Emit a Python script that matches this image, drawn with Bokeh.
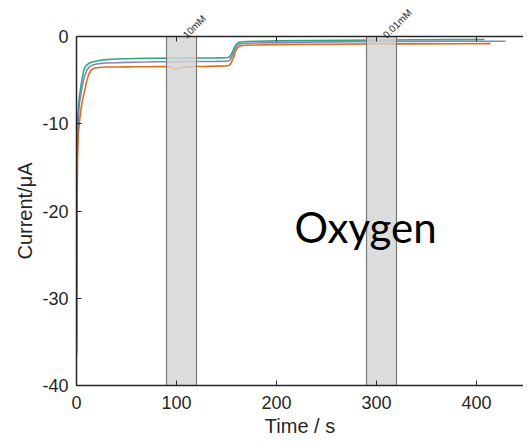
import math
from bokeh.plotting import figure
from bokeh.models import Range1d, LinearAxis, Label, FixedTicker
from bokeh.embed import file_html
from bokeh.resources import INLINE

# ---- data ----
t_green = [0, 0.3, 0.6, 1, 2, 3, 4, 5, 6, 7, 8, 10, 12, 15, 20, 25, 30, 40, 50, 60, 70, 80, 90,
           100, 110, 120, 130, 140, 150, 153, 155, 157, 159, 161, 163, 166, 170, 180, 200, 230,
           260, 300, 340, 380, 408]
i_green = [-36.0, -20.0, -13.5, -10.0, -8.0, -6.8, -6.0, -5.3, -4.6, -4.0, -3.6, -3.3, -3.1, -2.95,
           -2.8, -2.7, -2.65, -2.58, -2.55, -2.52, -2.5, -2.5, -2.48, -2.5, -2.48, -2.47, -2.46,
           -2.45, -2.43, -2.35, -2.0, -1.5, -1.0, -0.75, -0.65, -0.6, -0.58, -0.55, -0.5, -0.47,
           -0.44, -0.4, -0.38, -0.36, -0.35]

t_purple = [0, 0.3, 0.6, 1, 2, 3, 5, 7, 8, 10, 12, 14, 17, 20, 25, 30, 40, 50, 60, 70, 80, 90,
            100, 110, 120, 130, 140, 150, 153, 155, 157, 159, 161, 163, 166, 170, 180, 200, 230,
            260, 300, 340, 380, 410, 429]
i_purple = [-36.3, -22.0, -15.0, -11.0, -9.0, -7.6, -6.2, -5.0, -4.6, -3.95, -3.6, -3.4, -3.25,
            -3.15, -3.08, -3.03, -3.0, -2.97, -2.95, -2.93, -2.9, -2.9, -2.92, -2.88, -2.87, -2.86,
            -2.85, -2.83, -2.75, -2.4, -1.9, -1.3, -1.0, -0.85, -0.8, -0.77, -0.74, -0.7, -0.66,
            -0.62, -0.58, -0.56, -0.55, -0.55, -0.55]

t_orange = [0, 0.3, 0.6, 1, 2, 3, 4, 6, 8, 9, 10, 12, 14, 16, 18, 22, 25, 30, 40, 50, 60, 70, 80,
            90, 95, 98, 101, 105, 110, 120, 130, 140, 150, 153, 155, 157, 159, 161, 163, 166, 170,
            180, 200, 230, 260, 300, 340, 380, 414]
i_orange = [-36.8, -28.0, -20.0, -14.0, -11.0, -9.8, -8.7, -7.3, -6.3, -5.8, -5.2, -4.4, -3.95,
            -3.75, -3.62, -3.55, -3.52, -3.5, -3.5, -3.48, -3.47, -3.46, -3.45, -3.45, -3.5, -3.75,
            -3.7, -3.55, -3.48, -3.43, -3.42, -3.4, -3.38, -3.3, -2.95, -2.4, -1.7, -1.3, -1.1,
            -1.03, -1.0, -0.97, -0.93, -0.9, -0.88, -0.85, -0.84, -0.83, -0.82]

band_start = [90, 290]
band_end = [120, 320]
band_labels = ["10mM", "0.01mM"]

x_ticks = [0, 100, 200, 300, 400]
y_ticks = [-40, -30, -20, -10, 0]
x_min, x_max = 0, 447
y_min, y_max = -40, 0

annotation_text = "Oxygen"
annotation_pos = (218, -21.8)

# ---- figure ----
TXT = "#262626"
p = figure(width=523, height=440, x_range=Range1d(x_min, x_max), y_range=Range1d(y_min, y_max),
           output_backend="svg", toolbar_location=None,
           min_border_left=76, min_border_right=0, min_border_top=36, min_border_bottom=55)
p.outline_line_color = None
p.xgrid.visible = False
p.ygrid.visible = False
p.background_fill_color = "white"
p.border_fill_color = "white"

p.line(t_green, i_green, line_color="#1b9e77", line_width=1.6, line_alpha=0.9)
p.line(t_orange, i_orange, line_color="#d95f02", line_width=1.6, line_alpha=0.9)
p.line(t_purple, i_purple, line_color="#7570b3", line_width=1.6, line_alpha=0.85)

p.quad(left=band_start, right=band_end, top=y_max, bottom=y_min,
       fill_color="#d3d3d3", fill_alpha=0.8, line_color="#7a7a7a", line_width=1.2)

p.add_layout(Label(x=annotation_pos[0], y=annotation_pos[1], text=annotation_text,
                   text_font="Lato", text_font_size="42px", text_color="black",
                   text_baseline="alphabetic", text_align="left"))

for ax in (p.xaxis[0], p.yaxis[0]):
    ax.major_tick_in = 5
    ax.major_tick_out = 0
    ax.minor_tick_line_color = None
    ax.axis_line_color = TXT
    ax.axis_line_width = 1.5
    ax.major_tick_line_color = TXT
    ax.major_label_text_font = "Liberation Sans"
    ax.major_label_text_font_size = "18px"
    ax.major_label_text_color = TXT
    ax.axis_label_text_font = "Liberation Sans"
    ax.axis_label_text_font_size = "20px"
    ax.axis_label_text_font_style = "normal"
    ax.axis_label_text_color = TXT

p.xaxis[0].ticker = FixedTicker(ticks=x_ticks)
p.yaxis[0].ticker = FixedTicker(ticks=y_ticks)
p.yaxis[0].major_label_overrides = {v: str(v) for v in y_ticks}
p.xaxis[0].axis_label = "Time / s"
p.yaxis[0].axis_label = "Current/μA"
p.xaxis[0].major_label_standoff = 10
p.xaxis[0].axis_label_standoff = 3
p.yaxis[0].major_label_standoff = 8
p.yaxis[0].axis_label_standoff = 3

# top spine with inward ticks
top = LinearAxis(ticker=FixedTicker(ticks=x_ticks))
top.major_tick_in = 5
top.major_tick_out = 0
top.minor_tick_line_color = None
top.axis_line_color = TXT
top.axis_line_width = 1.5
top.major_tick_line_color = TXT
top.major_label_text_color = None
top.major_label_text_font_size = "0px"
top.major_label_standoff = 0
p.add_layout(top, "above")

# band labels as a second top axis (rotated text)
label_shift = 3
band_centers = [(s + e) / 2 + label_shift for s, e in zip(band_start, band_end)]
lab_axis = LinearAxis(ticker=FixedTicker(ticks=band_centers))
lab_axis.major_label_overrides = {c: lab for c, lab in zip(band_centers, band_labels)}
lab_axis.axis_line_color = None
lab_axis.major_tick_line_color = None
lab_axis.minor_tick_line_color = None
lab_axis.major_tick_in = 0
lab_axis.major_tick_out = 0
lab_axis.major_label_standoff = 0
lab_axis.major_label_orientation = math.pi / 4
lab_axis.major_label_text_font = "Liberation Sans"
lab_axis.major_label_text_font_size = "10px"
lab_axis.major_label_text_color = TXT
p.add_layout(lab_axis, "above")

open("out.html", "w").write(file_html(p, INLINE))
